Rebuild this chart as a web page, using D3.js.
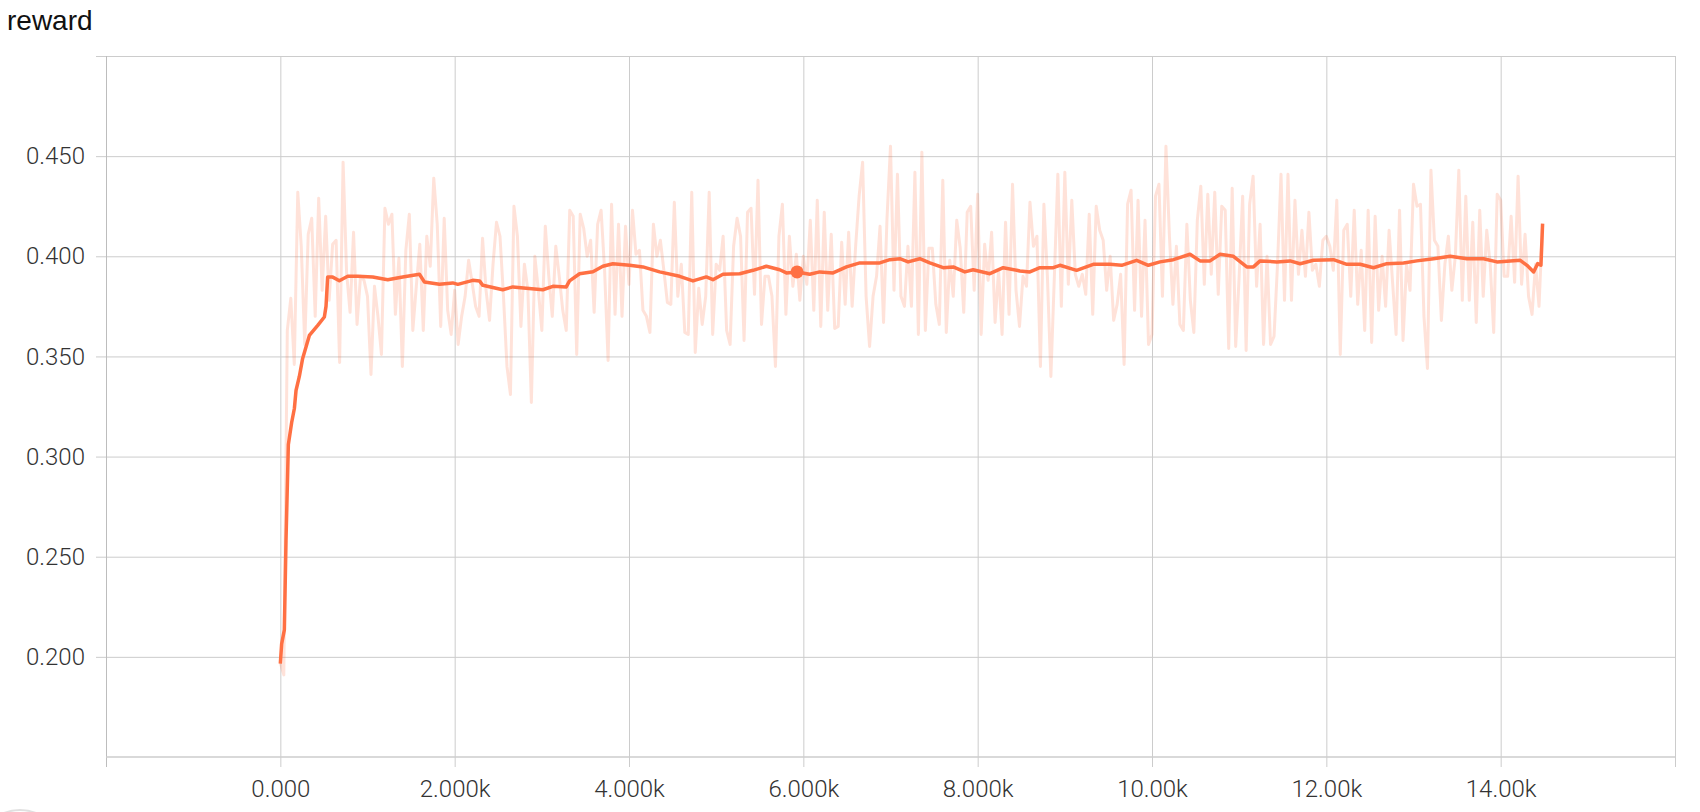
<!DOCTYPE html>
<html>
<head>
<meta charset="utf-8">
<script src="https://cdn.jsdelivr.net/npm/d3@7"></script>
<style>
  html, body { margin: 0; padding: 0; background: #fff; }
  svg { display: block; }
  .tick text { font-family: Roboto, "Liberation Sans", Arial, sans-serif; font-weight: 300; }
</style>
</head>
<body>
<svg id="chart" width="1700" height="812"></svg>
<script>
const title = "reward";

const xTicks = [-2000, 0, 2000, 4000, 6000, 8000, 10000, 12000, 14000, 16000];
const xTickLabels = ["", "0.000", "2.000k", "4.000k", "6.000k", "8.000k", "10.00k", "12.00k", "14.00k", ""];
const yTicks = [0.2, 0.25, 0.3, 0.35, 0.4, 0.45, 0.5];
const yTickLabels = ["0.200", "0.250", "0.300", "0.350", "0.400", "0.450", ""];

const rawSteps = [
  0,40,80,120,160,200,240,280,320,360,400,440,480,520,560,600,640,680,720,760,800,840,880,920,960,
  1000,1040,1080,1120,1160,1200,1240,1280,1320,1360,1400,1440,1480,1520,1560,1600,1640,1680,1720,1760,1800,1840,1880,1920,1960,
  2000,2040,2080,2120,2160,2200,2240,2280,2320,2360,2400,2440,2480,2520,2560,2600,2640,2680,2720,2760,2800,2840,2880,2920,2960,
  3000,3040,3080,3120,3160,3200,3240,3280,3320,3360,3400,3440,3480,3520,3560,3600,3640,3680,3720,3760,3800,3840,3880,3920,3960,
  4000,4040,4080,4120,4160,4200,4240,4280,4320,4360,4400,4440,4480,4520,4560,4600,4640,4680,4720,4760,4800,4840,4880,4920,4960,
  5000,5040,5080,5120,5160,5200,5240,5280,5320,5360,5400,5440,5480,5520,5560,5600,5640,5680,5720,5760,5800,5840,5880,5920,5960,
  6000,6040,6080,6120,6160,6200,6240,6280,6320,6360,6400,6440,6480,6520,6560,6600,6640,6680,6720,6760,6800,6840,6880,6920,6960,
  7000,7040,7080,7120,7160,7200,7240,7280,7320,7360,7400,7440,7480,7520,7560,7600,7640,7680,7720,7760,7800,7840,7880,7920,7960,
  8000,8040,8080,8120,8160,8200,8240,8280,8320,8360,8400,8440,8480,8520,8560,8600,8640,8680,8720,8760,8800,8840,8880,8920,8960,
  9000,9040,9080,9120,9160,9200,9240,9280,9320,9360,9400,9440,9480,9520,9560,9600,9640,9680,9720,9760,9800,9840,9880,9920,9960,
  10000,10040,10080,10120,10160,10200,10240,10280,10320,10360,10400,10440,10480,10520,10560,10600,10640,10680,10720,10760,10800,10840,10880,10920,10960,
  11000,11040,11080,11120,11160,11200,11240,11280,11320,11360,11400,11440,11480,11520,11560,11600,11640,11680,11720,11760,11800,11840,11880,11920,11960,
  12000,12040,12080,12120,12160,12200,12240,12280,12320,12360,12400,12440,12480,12520,12560,12600,12640,12680,12720,12760,12800,12840,12880,12920,12960,
  13000,13040,13080,13120,13160,13200,13240,13280,13320,13360,13400,13440,13480,13520,13560,13600,13640,13680,13720,13760,13800,13840,13880,13920,13960,
  14000,14040,14080,14120,14160,14200,14240,14280,14320,14360,14400,14440,14480
];
const rawValues = [
  0.197,0.191,0.363,0.379,0.346,0.432,0.405,0.356,0.411,0.419,0.370,0.429,0.383,0.420,0.378,0.406,0.408,0.347,0.447,0.392,0.372,0.412,0.366,0.390,0.388,
  0.380,0.341,0.385,0.370,0.351,0.424,0.416,0.421,0.371,0.399,0.345,0.403,0.421,0.363,0.385,0.406,0.363,0.410,0.395,0.439,0.416,0.365,0.419,0.373,0.361,
  0.383,0.356,0.370,0.380,0.398,0.387,0.375,0.370,0.409,0.383,0.368,0.396,0.417,0.410,0.380,0.345,0.331,0.425,0.410,0.365,0.396,0.383,0.327,0.400,0.383,
  0.363,0.415,0.390,0.370,0.405,0.390,0.373,0.363,0.423,0.420,0.351,0.421,0.414,0.400,0.408,0.372,0.416,0.423,0.393,0.348,0.426,0.371,0.416,0.370,0.415,
  0.386,0.423,0.401,0.403,0.373,0.370,0.362,0.416,0.400,0.408,0.393,0.377,0.376,0.427,0.380,0.396,0.362,0.361,0.432,0.352,0.384,0.366,0.380,0.432,0.361,
  0.396,0.393,0.410,0.363,0.356,0.405,0.419,0.410,0.358,0.422,0.424,0.381,0.438,0.366,0.390,0.390,0.380,0.345,0.410,0.426,0.371,0.410,0.385,0.401,0.378,
  0.400,0.386,0.418,0.373,0.428,0.365,0.422,0.373,0.411,0.364,0.365,0.407,0.376,0.412,0.375,0.405,0.430,0.447,0.380,0.355,0.380,0.390,0.415,0.367,0.419,
  0.455,0.383,0.441,0.380,0.375,0.405,0.375,0.442,0.361,0.452,0.363,0.404,0.404,0.376,0.366,0.438,0.362,0.398,0.380,0.418,0.404,0.372,0.422,0.425,0.383,
  0.431,0.361,0.406,0.388,0.412,0.367,0.393,0.361,0.417,0.371,0.436,0.383,0.365,0.390,0.385,0.427,0.405,0.410,0.345,0.426,0.390,0.340,0.390,0.441,0.375,
  0.442,0.386,0.428,0.391,0.385,0.391,0.381,0.421,0.371,0.425,0.413,0.408,0.383,0.400,0.368,0.376,0.391,0.346,0.426,0.433,0.373,0.428,0.370,0.418,0.356,
  0.361,0.430,0.436,0.380,0.455,0.410,0.376,0.405,0.366,0.363,0.416,0.378,0.362,0.418,0.435,0.386,0.431,0.391,0.432,0.381,0.425,0.423,0.354,0.434,0.355,
  0.390,0.430,0.353,0.426,0.440,0.385,0.416,0.356,0.400,0.356,0.360,0.396,0.441,0.378,0.441,0.378,0.428,0.391,0.413,0.390,0.422,0.393,0.396,0.385,0.408,
  0.410,0.405,0.393,0.428,0.351,0.413,0.416,0.380,0.423,0.376,0.403,0.363,0.423,0.357,0.420,0.373,0.400,0.375,0.413,0.387,0.361,0.423,0.358,0.396,0.383,
  0.436,0.425,0.426,0.370,0.344,0.443,0.408,0.405,0.368,0.396,0.410,0.383,0.400,0.443,0.378,0.430,0.378,0.417,0.367,0.423,0.380,0.413,0.396,0.362,0.431,
  0.428,0.390,0.390,0.420,0.387,0.440,0.386,0.411,0.380,0.371,0.396,0.375,0.416
];

const smoothSteps = [
  0,15,46,65,92,130,161,180,218,256,333,429,505,524,543,601,677,773,888,1060,1232,1404,1596,1653,1825,
  1978,2036,2208,2285,2323,2552,2667,2821,3012,3127,3280,3318,3433,3586,3700,3815,4007,4160,4351,4581,4734,4887,4963,5078,5270,
  5423,5576,5729,5806,5928,6073,6188,6341,6495,6648,6877,6992,7107,7202,7336,7451,7604,7719,7853,7948,8140,8293,8485,8599,8714,
  8867,8944,9135,9326,9518,9652,9824,9958,10092,10245,10436,10551,10666,10781,10934,11087,11164,11240,11432,11584,11699,11852,12082,12235,12388,
  12541,12694,12885,13038,13230,13421,13613,13804,13957,14110,14225,14302,14378,14424,14462,14481
];
const smoothValues = [
  0.1966,0.2065,0.2135,0.258,0.306,0.317,0.324,0.333,0.340,0.349,0.3605,0.3655,0.3697,0.375,0.3896,0.3896,0.3878,0.390,0.390,0.3897,0.3883,0.3897,0.391,0.3872,0.386,
  0.3867,0.386,0.388,0.3877,0.3855,0.3833,0.3847,0.384,0.3833,0.385,0.3847,0.3877,0.3913,0.3923,0.395,0.3963,0.3955,0.3947,0.3922,0.390,0.3877,0.3897,0.3883,0.391,0.3913,
  0.393,0.395,0.3933,0.3917,0.3922,0.391,0.3922,0.3917,0.3947,0.3967,0.3967,0.3983,0.3988,0.3972,0.3988,0.3967,0.3943,0.3947,0.3922,0.3933,0.3913,0.3943,0.3927,0.3922,0.3943,
  0.3943,0.3955,0.393,0.396,0.396,0.3955,0.398,0.3955,0.3972,0.3983,0.401,0.3977,0.3977,0.401,0.400,0.3947,0.3947,0.3977,0.3972,0.3977,0.3963,0.398,0.3983,0.396,0.396,
  0.3943,0.3963,0.3967,0.3977,0.3988,0.400,0.3988,0.3988,0.3972,0.3977,0.398,0.3955,0.3922,0.3963,0.3955,0.4163
];

const markerStep = 5928;
const markerValue = 0.3922;

const svg = d3.select("#chart");
const x = d3.scaleLinear().domain([-2000, 16000]).range([106, 1675]);
const y = d3.scaleLinear().domain([0.15, 0.5]).range([757, 56]);

// title
svg.append("text")
  .attr("x", 7).attr("y", 30)
  .attr("font-family", "'Liberation Sans', Arial, sans-serif")
  .attr("font-size", 28)
  .attr("fill", "#111")
  .text(title);

// y axis with horizontal gridlines
const yAxis = d3.axisLeft(y)
  .tickValues(yTicks)
  .tickFormat((d, i) => yTickLabels[i])
  .tickSizeInner(-(1675 - 96))
  .tickSizeOuter(0)
  .tickPadding(11);
const gy = svg.append("g").attr("transform", "translate(96,0)").call(yAxis);
gy.select(".domain").remove();
gy.selectAll(".tick line").attr("stroke", "#cccccc").attr("stroke-width", 1);
gy.selectAll(".tick text").attr("font-size", 24).attr("fill", "#333");

// x axis with vertical gridlines
const xAxis = d3.axisBottom(x)
  .tickValues(xTicks)
  .tickFormat((d, i) => xTickLabels[i])
  .tickSizeInner(-(767 - 56))
  .tickSizeOuter(0)
  .tickPadding(13);
const gx = svg.append("g").attr("transform", "translate(0,767)").call(xAxis);
gx.select(".domain").remove();
gx.selectAll(".tick line").attr("stroke", (d) => d === -2000 ? "#bdbdbd" : "#cccccc").attr("stroke-width", 1);
gx.selectAll(".tick text").attr("font-size", 24).attr("fill", "#333");

// bottom axis line
svg.append("line")
  .attr("x1", x(-2000)).attr("x2", x(16000))
  .attr("y1", y(0.15)).attr("y2", y(0.15))
  .attr("stroke", "#cccccc").attr("stroke-width", 1.5);

// raw series
const raw = rawSteps.map((s, i) => [s, rawValues[i]]);
const smooth = smoothSteps.map((s, i) => [s, smoothValues[i]]);
const line = d3.line().x(d => x(d[0])).y(d => y(d[1]));

svg.append("path")
  .datum(raw)
  .attr("d", line)
  .attr("fill", "none")
  .attr("stroke", "#ff7043")
  .attr("stroke-opacity", 0.2)
  .attr("stroke-width", 3)
  .attr("stroke-linejoin", "round");

svg.append("path")
  .datum(smooth)
  .attr("d", line)
  .attr("fill", "none")
  .attr("stroke", "#ff7043")
  .attr("stroke-width", 3.5)
  .attr("stroke-linejoin", "round");

svg.append("circle")
  .attr("cx", x(markerStep)).attr("cy", y(markerValue))
  .attr("r", 6.5)
  .attr("fill", "#ff7043");

// partial button at bottom-left
svg.append("circle")
  .attr("cx", 20).attr("cy", 852).attr("r", 42)
  .attr("fill", "none").attr("stroke", "#e0e0e0").attr("stroke-width", 2);
</script>
</body>
</html>
